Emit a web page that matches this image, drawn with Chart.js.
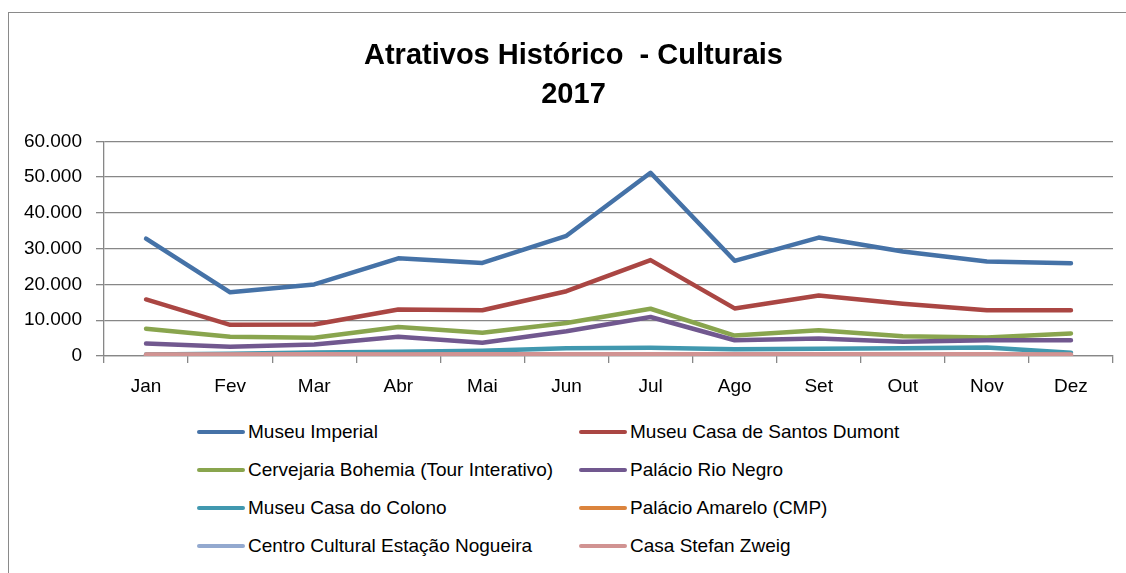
<!DOCTYPE html>
<html>
<head>
<meta charset="utf-8">
<script src="https://cdn.jsdelivr.net/npm/chart.js@4.4.1/dist/chart.umd.min.js"></script>
<style>
  html, body { margin: 0; padding: 0; background: #fff; overflow: hidden; }
  body { width: 1126px; height: 573px; position: relative; font-family: 'Liberation Sans', Arial, sans-serif; }
  #frame { position: absolute; left: 8px; top: 12px; width: 1300px; height: 800px; border: 1px solid #8a8a8a; box-sizing: border-box; }
  #wrap { position: absolute; left: 0; top: 0; width: 1126px; height: 410px; }
  #legend { position: absolute; left: 197px; top: 413px; display: grid; grid-template-columns: 382px 382px; grid-auto-rows: 38px; }
  .item { display: flex; align-items: center; font-size: 19px; color: #000; white-space: nowrap; }
  .swatch { width: 48px; height: 4px; border-radius: 2px; margin-right: 3px; }
</style>
</head>
<body>
<div id="frame"></div>
<div id="wrap"><canvas id="chart"></canvas></div>
<div id="legend"></div>
<script>
const months = ['Jan', 'Fev', 'Mar', 'Abr', 'Mai', 'Jun', 'Jul', 'Ago', 'Set', 'Out', 'Nov', 'Dez'];

const museuImperial   = [32800, 17800, 20000, 27300, 26000, 33600, 51200, 26600, 33100, 29200, 26400, 25900];
const santosDumont    = [15800, 8700, 8800, 13000, 12800, 18100, 26800, 13300, 16900, 14600, 12800, 12800];
const bohemia         = [7600, 5400, 5100, 8100, 6500, 9200, 13200, 5700, 7200, 5500, 5200, 6300];
const rioNegro        = [3500, 2600, 3200, 5400, 3700, 6900, 10900, 4400, 4900, 4000, 4400, 4400];
const casaColono      = [400, 600, 1000, 1200, 1500, 2200, 2300, 1900, 2000, 2200, 2400, 900];
const palacioAmarelo  = [300, 300, 350, 300, 350, 400, 400, 350, 300, 350, 300, 300];
const estacaoNogueira = [200, 250, 300, 250, 300, 300, 350, 300, 250, 300, 250, 200];
const stefanZweig     = [450, 450, 480, 450, 470, 500, 500, 470, 460, 470, 460, 450];

const seriesNames = [
  'Museu Imperial', 'Museu Casa de Santos Dumont',
  'Cervejaria Bohemia (Tour Interativo)', 'Palácio Rio Negro',
  'Museu Casa do Colono', 'Palácio Amarelo (CMP)',
  'Centro Cultural Estação Nogueira', 'Casa Stefan Zweig'
];
const seriesData = [museuImperial, santosDumont, bohemia, rioNegro, casaColono, palacioAmarelo, estacaoNogueira, stefanZweig];
const seriesColors = ['#4572A7', '#AA4643', '#89A54E', '#71588F', '#4198AF', '#DB843D', '#93A9CF', '#D19392'];

const yTicks = [0, 10000, 20000, 30000, 40000, 50000, 60000];
const fmt = v => v === 0 ? '0' : v.toLocaleString('de-DE', { minimumFractionDigits: 0 });

const gridColor = '#878787';
const tickFont = { family: "'Liberation Sans', Arial, sans-serif", size: 19 };

// the title sits centred on the whole chart frame, a bit right of the canvas middle
const shiftTitle = {
  id: 'shiftTitle',
  afterLayout(chart) {
    const t = chart.titleBlock;
    if (t) { t.left += 17; t.right += 17; }
  }
};

new Chart(document.getElementById('chart'), {
  type: 'line',
  data: {
    labels: months,
    datasets: seriesData.map((d, i) => ({
      label: seriesNames[i],
      data: d,
      borderColor: seriesColors[i],
      backgroundColor: seriesColors[i],
      borderWidth: 4.5,
      pointRadius: 0,
      pointHoverRadius: 0,
      tension: 0,
      borderCapStyle: 'round',
      borderJoinStyle: 'round',
      order: seriesData.length - i
    }))
  },
  plugins: [shiftTitle],
  options: {
    responsive: true,
    maintainAspectRatio: false,
    animation: false,
    layout: { padding: { left: 0, right: 13, top: 0, bottom: 10 } },
    plugins: {
      legend: { display: false },
      tooltip: { enabled: false },
      title: {
        display: true,
        text: ['Atrativos Histórico  - Culturais', '2017'],
        color: '#000',
        font: { family: "'Liberation Sans', Arial, sans-serif", size: 29, weight: 'bold', lineHeight: 1.35 },
        padding: { top: 36, bottom: 27 }
      }
    },
    scales: {
      x: {
        offset: true,
        grid: { offset: true, drawOnChartArea: false, drawTicks: true, tickLength: 7, color: gridColor, lineWidth: 1.3 },
        border: { color: gridColor, width: 1.3 },
        ticks: { color: '#000', font: tickFont, padding: 12, maxRotation: 0 },
        afterFit: s => { s.height = 44; }
      },
      y: {
        min: 0,
        max: 60000,
        afterBuildTicks: s => { s.ticks = yTicks.map(v => ({ value: v })); },
        grid: { color: gridColor, lineWidth: 1.3, tickLength: 8 },
        border: { color: gridColor, width: 1.3 },
        ticks: { color: '#000', font: tickFont, padding: 14, callback: v => fmt(v) },
        afterFit: s => { s.width = 104; }
      }
    }
  }
});

const legend = document.getElementById('legend');
seriesNames.forEach((name, i) => {
  const item = document.createElement('div');
  item.className = 'item';
  const sw = document.createElement('span');
  sw.className = 'swatch';
  sw.style.background = seriesColors[i];
  item.appendChild(sw);
  item.appendChild(document.createTextNode(name));
  legend.appendChild(item);
});
</script>
</body>
</html>
